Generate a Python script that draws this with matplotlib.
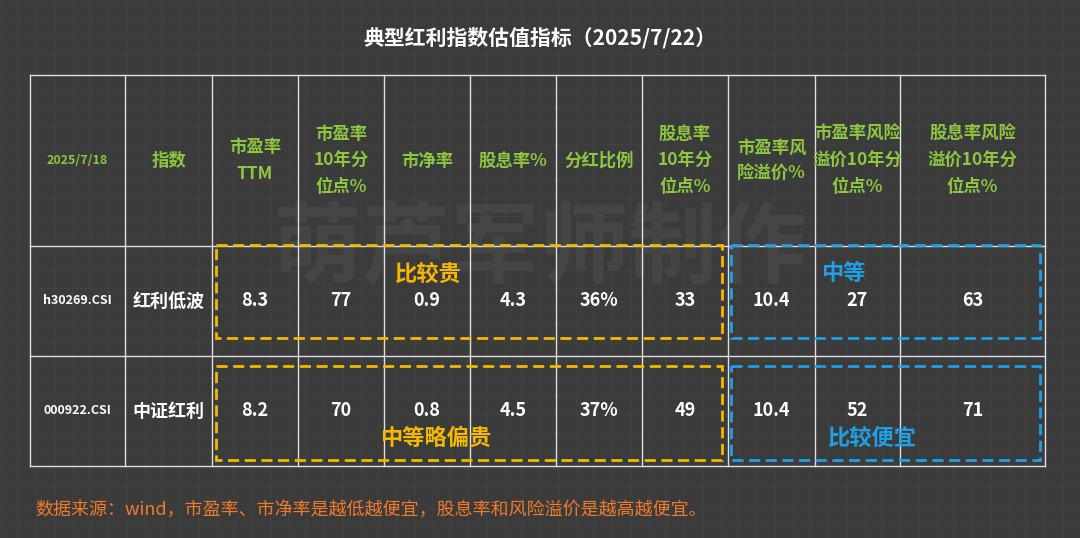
import matplotlib
matplotlib.use("Agg")
import matplotlib.pyplot as plt
from matplotlib.patches import Rectangle

plt.rcParams['font.family'] = ['Noto Sans CJK SC', 'DejaVu Sans']

title = "典型红利指数估值指标（2025/7/22）"
date_label = "2025/7/18"
headers = ["指数", "市盈率\nTTM", "市盈率\n10年分\n位点%", "市净率", "股息率%", "分红比例",
           "股息率\n10年分\n位点%", "市盈率风\n险溢价%", "市盈率风险\n溢价10年分\n位点%", "股息率风险\n溢价10年分\n位点%"]
codes = ["h30269.CSI", "000922.CSI"]
names = ["红利低波", "中证红利"]
pe_ttm = ["8.3", "8.2"]
pe_pct = ["77", "70"]
pb = ["0.9", "0.8"]
dy = ["4.3", "4.5"]
payout = ["36%", "37%"]
dy_pct = ["33", "49"]
erp = ["10.4", "10.4"]
erp_pct = ["27", "52"]
dyrp_pct = ["63", "71"]
labels_left = ["比较贵", "中等略偏贵"]
labels_right = ["中等", "比较便宜"]
footer = "数据来源：wind，市盈率、市净率是越低越便宜，股息率和风险溢价是越高越便宜。"

xs = [30, 125, 212, 298, 384, 470, 556, 642, 728, 815, 900, 1045]
ys = [75, 246, 356, 466]

fig = plt.figure(figsize=(10.8, 5.38), dpi=100)
fig.patch.set_facecolor('#3b3b3b')
ax = fig.add_axes([0, 0, 1, 1])
ax.set_xlim(0, 1080); ax.set_ylim(538, 0); ax.axis('off')
ax.set_facecolor('#3b3b3b')
for g in range(0, 1081, 18):
    ax.plot([g, g], [0, 538], color='#434343', lw=0.5, zorder=0)
for g in range(0, 539, 18):
    ax.plot([0, 1080], [g, g], color='#434343', lw=0.5, zorder=0)

ax.text(540, 38, title, color='white', fontsize=15, fontweight='bold', ha='center', va='center')
ax.text(540, 250, "萌芦军师制作", color='#454545', fontsize=64, fontweight='bold', ha='center', va='center', zorder=1)

for x in xs:
    ax.plot([x, x], [ys[0], ys[-1]], color='#e0e0e0', lw=1, zorder=2)
for y in ys:
    ax.plot([xs[0], xs[-1]], [y, y], color='#e0e0e0', lw=1, zorder=2)

green = '#8dc63f'
hy = (ys[0] + ys[1]) / 2
ax.text((xs[0] + xs[1]) / 2, hy, date_label, color=green, fontsize=9, fontweight='bold', ha='center', va='center')
for i, h in enumerate(headers):
    cx = (xs[i + 1] + xs[i + 2]) / 2
    ax.text(cx, hy, h, color=green, fontsize=12.5, fontweight='bold', ha='center', va='center', linespacing=1.6)

cols = [pe_ttm, pe_pct, pb, dy, payout, dy_pct, erp, erp_pct, dyrp_pct]
for r in range(2):
    ry = (ys[r + 1] + ys[r + 2]) / 2
    ax.text((xs[0] + xs[1]) / 2, ry, codes[r], color='white', fontsize=9, fontweight='bold', ha='center', va='center')
    ax.text((xs[1] + xs[2]) / 2, ry, names[r], color='white', fontsize=13, fontweight='bold', ha='center', va='center')
    for c, vals in enumerate(cols):
        ax.text((xs[c + 2] + xs[c + 3]) / 2, ry, vals[r], color='white', fontsize=13, fontweight='bold', ha='center', va='center')

orange = '#f5b800'; blue = '#1ea0e6'
boxes_y = [(245, 338), (366, 460)]
for r, (y0, y1) in enumerate(boxes_y):
    ax.add_patch(Rectangle((216, y0), 506, y1 - y0, fill=False, ec=orange, lw=2, ls=(0, (4, 2)), zorder=3))
    ax.add_patch(Rectangle((731, y0), 309, y1 - y0, fill=False, ec=blue, lw=2, ls=(0, (4, 2)), zorder=3))
ax.text(428, 274, labels_left[0], color=orange, fontsize=16, fontweight='bold', ha='center', va='center')
ax.text(436, 438, labels_left[1], color=orange, fontsize=16, fontweight='bold', ha='center', va='center')
ax.text(843, 274, labels_right[0], color=blue, fontsize=16, fontweight='bold', ha='center', va='center')
ax.text(872, 438, labels_right[1], color=blue, fontsize=16, fontweight='bold', ha='center', va='center')

ax.text(35, 510, footer, color='#f07a2a', fontsize=13, style='italic', ha='left', va='center')

fig.savefig('out.png', dpi=100, facecolor=fig.get_facecolor())
